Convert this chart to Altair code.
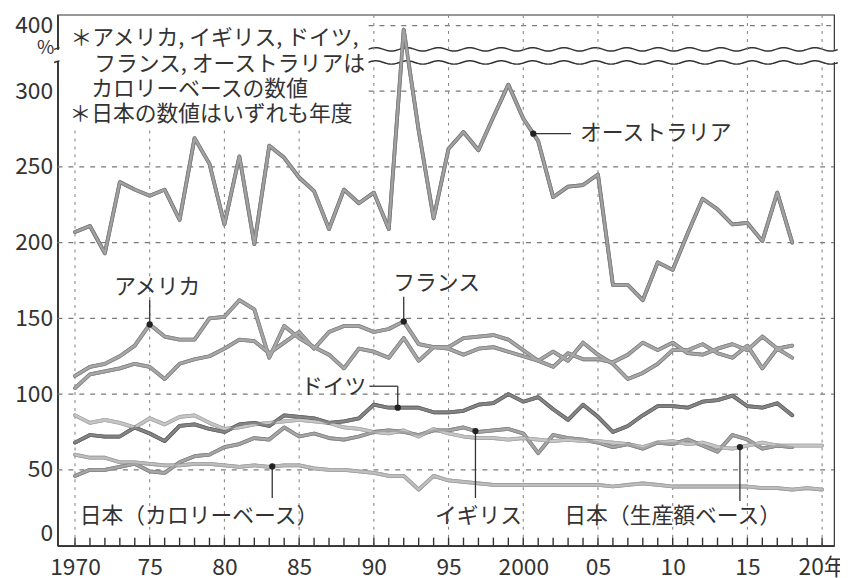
import altair as alt
import pandas as pd
import numpy as np

# ---------------- data ----------------
years = list(range(1970, 2019))          # foreign countries, calendar years
jp_years = list(range(1970, 2021))       # Japan, fiscal years

australia = [207, 211, 193, 240, 235, 231, 235, 215, 269, 252,
             212, 257, 199, 264, 256, 243, 234, 209, 235, 226,
             233, 209, 394, 274, 216, 262, 273, 261, 283, 310,
             282, 267, 230, 237, 238, 245, 172, 172, 162, 187,
             182, 206, 229, 222, 212, 213, 201, 233, 200]
usa = [112, 118, 120, 125, 132, 146, 138, 136, 136, 150,
       151, 162, 156, 124, 145, 137, 131, 126, 117, 130,
       128, 124, 137, 122, 131, 130, 126, 130, 131, 128,
       125, 122, 118, 127, 123, 123, 121, 126, 134, 129,
       134, 127, 126, 130, 133, 129, 138, 130, 132]
france = [104, 113, 115, 117, 120, 118, 110, 120, 123, 125,
          130, 136, 135, 127, 134, 141, 130, 141, 145, 145,
          141, 143, 148, 133, 131, 131, 137, 138, 139, 136,
          129, 122, 128, 122, 134, 126, 120, 110, 114, 120,
          129, 129, 133, 127, 124, 132, 117, 130, 124]
germany = [68, 73, 72, 72, 78, 74, 69, 79, 80, 77,
           75, 80, 81, 79, 86, 85, 84, 81, 82, 84,
           93, 91, 91, 91, 88, 88, 89, 93, 94, 100,
           95, 98, 90, 83, 93, 85, 75, 79, 86, 92,
           92, 91, 95, 96, 99, 92, 91, 94, 86]
uk = [46, 50, 50, 52, 54, 49, 48, 55, 59, 60,
      65, 67, 71, 70, 78, 72, 74, 71, 70, 72,
      75, 76, 75, 73, 76, 76, 78, 75, 76, 77,
      74, 61, 73, 71, 70, 68, 65, 67, 64, 68,
      67, 70, 66, 62, 73, 70, 64, 66, 65]
japan_prod = [86, 81, 83, 81, 78, 84, 80, 85, 86, 81,
              77, 78, 80, 81, 82, 83, 82, 81, 78, 77,
              75, 74, 76, 72, 77, 74, 72, 71, 71, 70,
              71, 70, 69, 70, 69, 69, 68, 67, 65, 68,
              69, 67, 68, 65, 64, 66, 68, 66, 66, 66, 66]
japan_cal = [60, 58, 58, 55, 55, 54, 53, 53, 54, 54,
             53, 52, 53, 52, 53, 53, 51, 50, 50, 49,
             48, 46, 46, 37, 46, 43, 42, 41, 40, 40,
             40, 40, 40, 40, 40, 40, 39, 40, 41, 40,
             39, 39, 39, 39, 39, 39, 38, 38, 37, 38, 37]

y_tick_values = [0, 50, 100, 150, 200, 250, 300, 400]
x_tick_values = list(range(1970, 2021, 5))
x_tick_labels = ["1970", "75", "80", "85", "90", "95", "2000", "05", "10", "15", "20年"]

note_lines = ["＊アメリカ, イギリス, ドイツ,",
              "フランス, オーストラリアは",
              "カロリーベースの数値",
              "＊日本の数値はいずれも年度"]

# ---------------- broken axis (300 -> 400 compressed) ----------------
BREAK_AT = 300
BREAK_K = 0.433
def disp(v):
    return v if v <= BREAK_AT else BREAK_AT + (v - BREAK_AT) * BREAK_K

Y_MAX = 350.5
X_MIN, X_MAX = 1968.83, 2020.8
W, H = 784, 536
FONT = "Noto Sans CJK JP"
NOTE_X_END = 1989.65      # right edge of the note block (x units)
NOTE_Y_BOTTOM = 274.6     # lower edge of the note block (display units)
BAND_LO, BAND_HI = 319.2, 327.3

series = {
    "オーストラリア": (years, australia),
    "アメリカ": (years, usa),
    "フランス": (years, france),
    "ドイツ": (years, germany),
    "イギリス": (years, uk),
    "日本（生産額ベース）": (jp_years, japan_prod),
    "日本（カロリーベース）": (jp_years, japan_cal),
}
order = ["日本（カロリーベース）", "日本（生産額ベース）", "イギリス", "ドイツ",
         "フランス", "アメリカ", "オーストラリア"]
colors = {"オーストラリア": "#a2a2a2", "アメリカ": "#a8a8a8", "フランス": "#a8a8a8",
          "ドイツ": "#858585", "イギリス": "#a6a6a6",
          "日本（生産額ベース）": "#c6c6c6", "日本（カロリーベース）": "#bebebe"}
edges = {"オーストラリア": "#7c7c7c", "アメリカ": "#858585", "フランス": "#858585",
         "ドイツ": "#666666", "イギリス": "#858585",
         "日本（生産額ベース）": "#a8a8a8", "日本（カロリーベース）": "#a0a0a0"}
widths = {"オーストラリア": 4.4, "アメリカ": 3.8, "フランス": 3.8, "ドイツ": 3.8,
          "イギリス": 3.8, "日本（生産額ベース）": 3.8, "日本（カロリーベース）": 3.8}

rows = []
for name in order:
    ys, vs = series[name]
    for yr, v in zip(ys, vs):
        rows.append({"series": name, "year": yr, "value": v})
df = pd.DataFrame(rows)

def at(name, yr):
    ys, vs = series[name]
    return disp(float(np.interp(yr, ys, vs)))

# dots on the series and leader lines to labels
dot_specs = [("アメリカ", 1975.0), ("フランス", 1992.0), ("ドイツ", 1991.6),
             ("オーストラリア", 2000.67), ("イギリス", 1996.8),
             ("日本（生産額ベース）", 2014.5), ("日本（カロリーベース）", 1983.2)]
dots = pd.DataFrame([{"x": x, "y": at(n, x)} for n, x in dot_specs])

leaders = pd.DataFrame([
    {"x": 1975.0, "y": at("アメリカ", 1975.0), "x2": 1975.0, "y2": 162.2},
    {"x": 1992.0, "y": at("フランス", 1992.0), "x2": 1992.0, "y2": 164.2},
    {"x": 1991.6, "y": at("ドイツ", 1991.6), "x2": 1991.6, "y2": 105.2},
    {"x": 1989.7, "y": 105.2, "x2": 1991.6, "y2": 105.2},
    {"x": 2000.67, "y": at("オーストラリア", 2000.67), "x2": 2003.2, "y2": at("オーストラリア", 2000.67)},
    {"x": 1996.8, "y": at("イギリス", 1996.8), "x2": 1996.8, "y2": 31.4},
    {"x": 2014.5, "y": at("日本（生産額ベース）", 2014.5), "x2": 2014.5, "y2": 29.4},
    {"x": 1983.2, "y": at("日本（カロリーベース）", 1983.2), "x2": 1983.2, "y2": 31.4},
])

labels = pd.DataFrame([
    {"text": "アメリカ", "x": 1975.5, "y": 170.6, "al": "center"},
    {"text": "フランス", "x": 1994.2, "y": 173.0, "al": "center"},
    {"text": "ドイツ", "x": 1989.5, "y": 104.6, "al": "right"},
    {"text": "オーストラリア", "x": 2003.8, "y": 272.5, "al": "left"},
    {"text": "イギリス", "x": 1997.0, "y": 19.6, "al": "center"},
    {"text": "日本（生産額ベース）", "x": 2010.0, "y": 19.6, "al": "center"},
    {"text": "日本（カロリーベース）", "x": 1978.3, "y": 19.6, "al": "center"},
])

# note block lines, pixel offsets inside the plot area
note_df = pd.DataFrame({"text": note_lines,
                        "px": [13, 37, 34, 12],
                        "py": [31, 56.5, 82, 107.5]})

# grid segments built from the tick lists, leaving out the note block and the break band
hseg = []
for v in y_tick_values[1:]:
    d = disp(v)
    x0 = NOTE_X_END if d > NOTE_Y_BOTTOM else X_MIN
    hseg.append({"x": x0, "x2": X_MAX, "y": d, "y2": d})
vseg = []
for xv in x_tick_values:
    if xv < NOTE_X_END:
        vseg.append({"x": xv, "x2": xv, "y": 0, "y2": NOTE_Y_BOTTOM})
    else:
        vseg.append({"x": xv, "x2": xv, "y": 0, "y2": BAND_LO})
        vseg.append({"x": xv, "x2": xv, "y": BAND_HI, "y2": Y_MAX})
hgrid_df = pd.DataFrame(hseg)
vgrid_df = pd.DataFrame(vseg)

xs = alt.Scale(domain=[X_MIN, X_MAX], nice=False, zero=False)
ysc = alt.Scale(domain=[0, Y_MAX], nice=False, zero=False)

x_label_expr = "{" + ",".join(f"'{v}':'{l}'" for v, l in zip(x_tick_values, x_tick_labels)) + "}[toString(datum.value)]"

base_x = alt.X("year:Q", scale=xs, axis=alt.Axis(
    values=x_tick_values, labelExpr=x_label_expr, grid=False, ticks=False,
    domainColor="#333", domainWidth=1.8, labelPadding=11, labelFontSize=23,
    labelColor="#333", labelFlush=False, title=None))
base_y = alt.Y("d:Q", scale=ysc, axis=alt.Axis(
    values=[disp(v) for v in y_tick_values],
    labelExpr="datum.value > 320 ? '400' : datum.label",
    grid=False, ticks=False, domainColor="#333", domainWidth=1.8, labelPadding=5,
    labelFontSize=23, labelColor="#333", title=None,
    labelBaseline={"condition": {"test": "datum.value == 0", "value": "bottom"}, "value": "middle"}))

hgrid = alt.Chart(hgrid_df).mark_rule(color="#7a7a7a", strokeWidth=1.1, strokeDash=[5, 6]).encode(
    x=alt.X("x:Q", scale=xs), x2="x2:Q", y=alt.Y("y:Q", scale=ysc), y2="y2:Q")
vgrid = alt.Chart(vgrid_df).mark_rule(color="#8a8a8a", strokeWidth=1.1, strokeDash=[3, 5]).encode(
    x=alt.X("x:Q", scale=xs), x2="x2:Q", y=alt.Y("y:Q", scale=ysc), y2="y2:Q")

line_base = alt.Chart(df).transform_calculate(
    d=f"datum.value <= {BREAK_AT} ? datum.value : {BREAK_AT} + (datum.value - {BREAK_AT}) * {BREAK_K}"
)
lines_edge = line_base.mark_line(strokeJoin="round", strokeCap="round").encode(
    x=base_x, y=base_y,
    color=alt.Color("series:N", scale=alt.Scale(domain=order, range=[edges[s] for s in order]), legend=None),
    strokeWidth=alt.StrokeWidth("series:N", scale=alt.Scale(domain=order, range=[widths[s] for s in order]), legend=None),
    order="year:Q",
)
lines_fill = line_base.mark_line(strokeJoin="round", strokeCap="round").encode(
    x=alt.X("year:Q", scale=xs), y=alt.Y("d:Q", scale=ysc),
    stroke=alt.Stroke("series:N", scale=alt.Scale(domain=order, range=[colors[s] for s in order]), legend=None),
    strokeWidth=alt.StrokeWidth("series:N", scale=alt.Scale(domain=order, range=[widths[s] - 1.6 for s in order]), legend=None),
    order="year:Q",
)

# axis-break waves (decoration)
wave = alt.Chart(alt.sequence(1968.6, 2021.1, 0.05, as_="t")).transform_calculate(
    lo="318.95 + 1.1*sin(2*PI*(datum.t-1968.6)/2.1)",
    hi="327.6 + 1.1*sin(2*PI*(datum.t-1968.6)/2.1)")
one = alt.Data(values=[{"k": 1}])
wave_band = alt.Chart(one).mark_rect(color="white").encode(
    x=alt.datum(1968.5, scale=xs), x2=alt.datum(2021.0),
    y=alt.datum(BAND_LO, scale=ysc), y2=alt.datum(BAND_HI))
wave_lo = wave.mark_line(color="#333", strokeWidth=1.5).encode(
    x=alt.X("t:Q", scale=xs), y=alt.Y("lo:Q", scale=ysc))
wave_hi = wave.mark_line(color="#333", strokeWidth=1.5).encode(
    x=alt.X("t:Q", scale=xs), y=alt.Y("hi:Q", scale=ysc))

note_box = alt.Chart(one).mark_rect(color="white").encode(
    x=alt.value(2), x2=alt.value(314), y=alt.value(2), y2=alt.value(116))
note = alt.Chart(note_df).mark_text(
    align="left", baseline="alphabetic", fontSize=22, font=FONT, color="#333").encode(
    x=alt.X("px:Q", scale=None), y=alt.Y("py:Q", scale=None), text="text:N")
pct = alt.Chart(one).mark_text(text="%", align="center", baseline="middle",
                               fontSize=19, font=FONT, color="#333").encode(
    x=alt.value(-12), y=alt.value(34))

ticks = alt.Chart(pd.DataFrame({"yr": jp_years})).mark_rule(color="#333", strokeWidth=1.4).encode(
    x=alt.X("yr:Q", scale=xs), y=alt.value(H), y2=alt.value(H - 8))

leader = alt.Chart(leaders).mark_rule(color="#333", strokeWidth=1.3).encode(
    x=alt.X("x:Q", scale=xs), x2="x2:Q", y=alt.Y("y:Q", scale=ysc), y2="y2:Q")
dot = alt.Chart(dots).mark_circle(color="#222", size=40, opacity=1).encode(
    x=alt.X("x:Q", scale=xs), y=alt.Y("y:Q", scale=ysc))

def label_layer(al):
    return alt.Chart(labels[labels["al"] == al]).mark_text(
        fontSize=22, font=FONT, color="#333", baseline="middle", align=al).encode(
        x=alt.X("x:Q", scale=xs), y=alt.Y("y:Q", scale=ysc), text="text:N")

chart = alt.layer(
    lines_edge, wave_band, wave_lo, wave_hi, note_box, note, pct, hgrid, vgrid, ticks,
    lines_edge, lines_fill, leader, dot,
    label_layer("center"), label_layer("left"), label_layer("right")
).resolve_scale(strokeWidth="independent").properties(
    width=W, height=H,
    autosize=alt.AutoSizeParams(type="none"),
    padding={"left": 50, "top": 4, "right": 6, "bottom": 30},
    background="white",
).configure_view(stroke="#333", strokeWidth=1.2).configure_text(font=FONT).configure_axis(
    labelFont=FONT)

chart.save("out.html", embed_options={"renderer": "svg", "actions": False})
